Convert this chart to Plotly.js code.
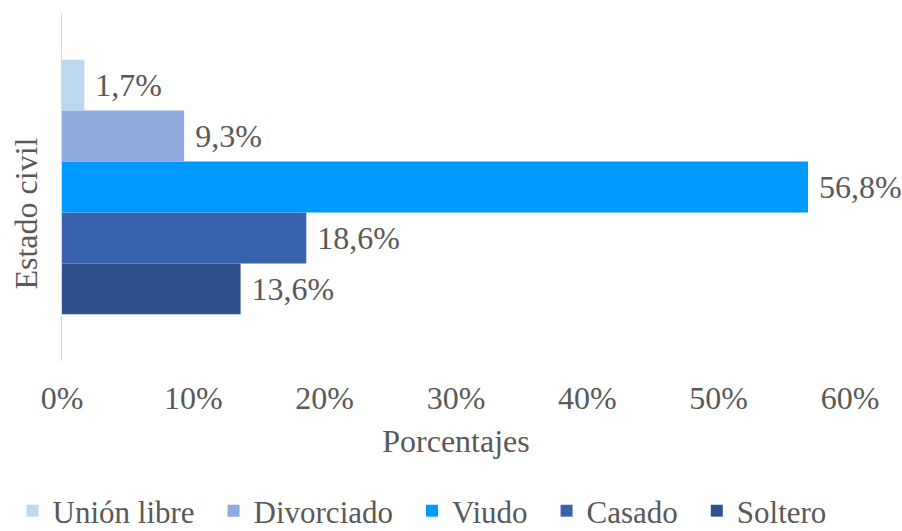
<!DOCTYPE html>
<html>
<head>
<meta charset="utf-8">
<script src="https://cdn.plot.ly/plotly-3.0.1.min.js"></script>
<style>html,body{margin:0;padding:0;background:#fff;}#chart{width:902px;height:531px;}</style>
</head>
<body>
<div id="chart"></div>
<script>
// Series (bottom to top in the plot); legend shows them reversed
const category = ['Estado civil'];
const seriesNames = ['Soltero', 'Casado', 'Viudo', 'Divorciado', 'Unión libre'];
const seriesValues = [13.6, 18.6, 56.8, 9.3, 1.7];
const seriesColors = ['#2F528F', '#3A62AC', '#0099FF', '#8FAADC', '#BDD7EE'];
const xTickVals = [0, 10, 20, 30, 40, 50, 60];
const xTickText = ['0%', '10%', '20%', '30%', '40%', '50%', '60%'];

const FONT = "'Liberation Serif', 'Times New Roman', serif";
const textColor = '#595959';
const FS = 32;

const traces = seriesNames.map((name, i) => ({
  type: 'bar',
  orientation: 'h',
  name: name + '\u00a0\u2009',
  y: category,
  x: [seriesValues[i]],
  marker: {color: seriesColors[i]},
  texttemplate: '\u00a0%{x:.1f}%',
  textposition: 'outside',
  cliponaxis: false,
  constraintext: 'none',
  textfont: {family: FONT, size: FS, color: textColor},
  hoverinfo: 'skip'
}));

const layout = {
  width: 902, height: 531,
  margin: {l: 61.5, r: 52, t: 13, b: 170, autoexpand: false},
  paper_bgcolor: '#ffffff', plot_bgcolor: '#ffffff',
  font: {family: FONT, color: textColor, size: FS},
  separators: ',.',
  barmode: 'group',
  bargap: 0.268,
  bargroupgap: 0,
  showlegend: true,
  xaxis: {
    range: [0, 60],
    tickvals: xTickVals,
    ticktext: xTickText,
    showgrid: false,
    zeroline: false,
    showline: false,
    ticks: '',
    automargin: false,
    ticklabelstandoff: 15,
    tickfont: {family: FONT, size: FS, color: textColor},
    title: {text: 'Porcentajes', font: {family: FONT, size: FS, color: textColor}, standoff: 14}
  },
  yaxis: {
    showticklabels: false,
    showgrid: false,
    zeroline: false,
    showline: true,
    automargin: false,
    linecolor: '#D9D9D9',
    linewidth: 1.5,
    ticks: ''
  },
  annotations: [{
    text: 'Estado civil',
    textangle: -90,
    xref: 'paper', yref: 'paper',
    x: (25 - 61.5) / 788.5, y: (361 - 214) / 348,
    xanchor: 'center', yanchor: 'middle',
    showarrow: false,
    font: {family: FONT, size: FS, color: textColor}
  }],
  legend: {
    orientation: 'h',
    traceorder: 'reversed',
    xref: 'paper', yref: 'paper',
    x: (12 - 61.5) / 788.5, xanchor: 'left',
    y: (361 - 511) / 348, yanchor: 'middle',
    font: {family: FONT, size: 31, color: textColor},
    itemwidth: 30
  }
};

Plotly.newPlot('chart', traces, layout, {displayModeBar: false, staticPlot: true});
</script>
</body>
</html>
